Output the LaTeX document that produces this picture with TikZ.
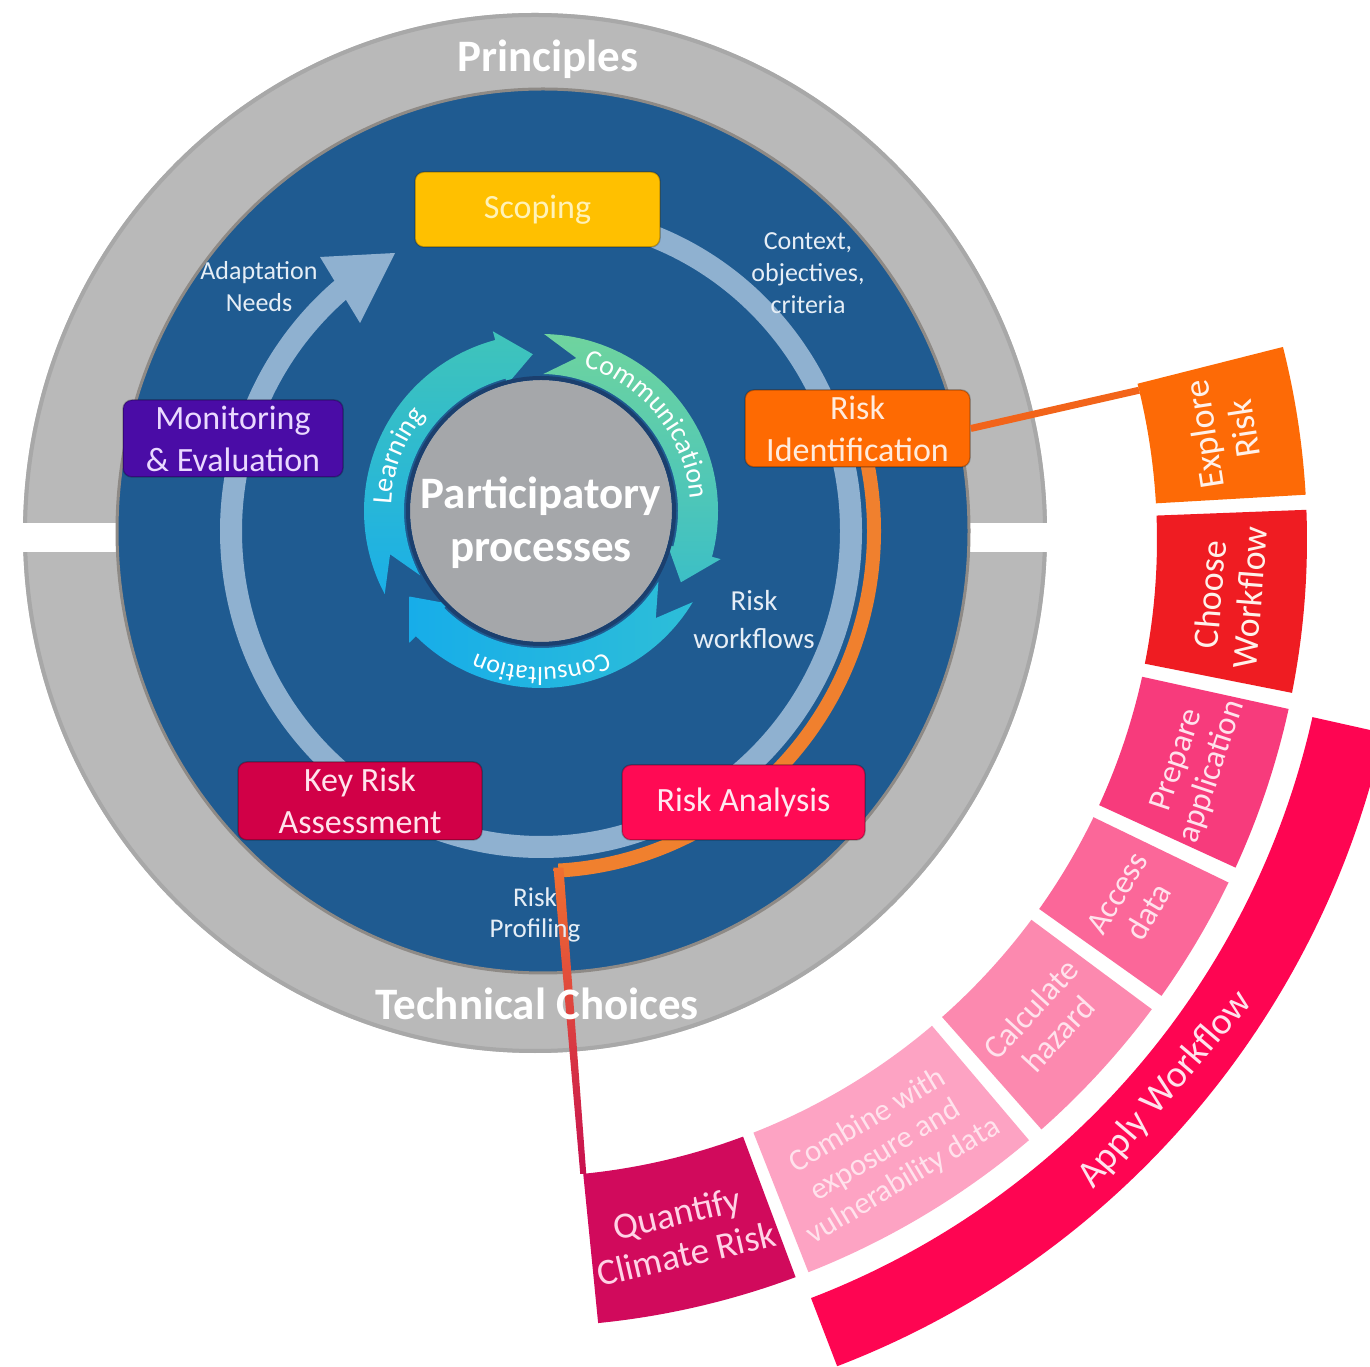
\documentclass[tikz,border=0pt]{standalone}
\usepackage{fontspec}
\setmainfont{Carlito}
\usetikzlibrary{decorations.text,calc}
\definecolor{ringgray}{HTML}{B9B9B9}
\definecolor{ringedge}{HTML}{A8A8A8}
\definecolor{diskblue}{HTML}{1F5B91}
\definecolor{diskedge}{HTML}{8E8A86}
\definecolor{cyclering}{HTML}{8FB1D0}
\definecolor{orangearc}{HTML}{F0802E}
\definecolor{idline}{HTML}{F2641A}
\definecolor{thintop}{HTML}{F07030}
\definecolor{thinbot}{HTML}{C8104F}
\definecolor{innergray}{HTML}{A5A7AA}
\definecolor{innerline}{HTML}{1B3F6E}
\definecolor{lbltxt}{HTML}{E6EEF6}
\definecolor{scopingcol}{HTML}{FFC000}
\definecolor{scopingtxt}{HTML}{FFF2B8}
\definecolor{riskidcol}{HTML}{FE6A02}
\definecolor{riskidtxt}{HTML}{FFEBDD}
\definecolor{moncol}{HTML}{4A0CA6}
\definecolor{montxt}{HTML}{EAD9FF}
\definecolor{keycol}{HTML}{D10047}
\definecolor{keytxt}{HTML}{FFE3EC}
\definecolor{analcol}{HTML}{FF0A54}
\definecolor{analtxt}{HTML}{FFE8F0}
\definecolor{learnA}{HTML}{1AAFE8}
\definecolor{learnB}{HTML}{40C4BA}
\definecolor{commA}{HTML}{6FD49E}
\definecolor{commB}{HTML}{3CBFC6}
\definecolor{consA}{HTML}{17ADE9}
\definecolor{consB}{HTML}{2DBED8}
\definecolor{explorecol}{HTML}{FD6A06}
\definecolor{choosecol}{HTML}{EF1C22}
\definecolor{preparecol}{HTML}{F73B7C}
\definecolor{accesscol}{HTML}{FB6799}
\definecolor{calccol}{HTML}{FC89AF}
\definecolor{combinecol}{HTML}{FDA3C3}
\definecolor{quantcol}{HTML}{D10A5C}
\definecolor{applycol}{HTML}{FE0552}
\definecolor{segwhite}{HTML}{FFF1EA}
\definecolor{segpink}{HTML}{FFE2EC}
\definecolor{quanttxt}{HTML}{FFD3E6}

\newcommand\ppArrow[3]{%
  \pgfmathsetmacro\hb{#2+12}%
  \pgfmathsetmacro\tn{#1-12}%
  \shade[#3] ([shift={(541,855)}]#1:177) arc[start angle=#1, end angle=\hb, radius=177]
    -- ([shift={(541,855)}]\hb:186) -- ([shift={(541,855)}]#2:157)
    -- ([shift={(541,855)}]\hb:131) -- ([shift={(541,855)}]\hb:137)
    arc[start angle=\hb, end angle=#1, radius=137]
    -- ([shift={(541,855)}]\tn:157) -- cycle;
}
\newcommand\segm[3]{%
  \fill[#3] ([shift={(520,826)}]#1:637) arc[start angle=#1, end angle=#2, radius=637]
    -- ([shift={(520,826)}]#2:787) arc[start angle=#2, end angle=#1, radius=787] -- cycle;
}

\begin{document}
\begin{tikzpicture}[x=1pt,y=1pt,
  box/.style={rounded corners=9pt, inner sep=0pt, align=center, font=\fontsize{34}{42}\selectfont, draw=black, draw opacity=0.25, line width=1.5pt},
  lbl/.style={align=center, text=lbltxt, font=\fontsize{26}{32}\selectfont, inner sep=0pt},
  bigtxt/.style={text=white, font=\bfseries\fontsize{45}{53}\selectfont, inner sep=0pt, align=center},
  segtxt/.style={align=center, inner sep=0pt},
]
\useasboundingbox (0,0) rectangle (1370,1366);
\fill[white] (0,0) rectangle (1370,1366);

% outer gray ring, split by a white strip
\fill[ringgray] (535,833) ellipse [x radius=512, y radius=520];
\draw[ringedge, line width=4pt] (535,833) ellipse [x radius=510, y radius=518];
\fill[white] (0,814) rectangle (1100,843);

% blue disk
\fill[diskblue] (543,835) ellipse [x radius=425, y radius=441];
\draw[diskedge, line width=3pt] (543,835) ellipse [x radius=426, y radius=442];

% orange arc outside the cycle
\draw[orangearc, line width=14pt] ([shift={(541,835)}]15:333 and 340) arc[start angle=15, end angle=-87, x radius=333, y radius=340];
\coordinate (corner) at ([shift={(541,835)}]-87:333 and 340);

% main cycle ring with arrow head
\draw[cyclering, line width=22pt] ([shift={(541,835)}]90:310 and 316) arc[start angle=90, end angle=-230, x radius=310, y radius=316];
\fill[cyclering] (320,1109) -- (395,1113) -- (360,1043) -- cycle;

% inner participatory arrows
\ppArrow{208}{93}{bottom color=learnA, top color=learnB}
\ppArrow{89}{-27}{top color=commA, bottom color=commB}
\ppArrow{-31}{-147}{left color=consA, right color=consB}
\fill[innergray] (541,855) circle[radius=131];
\draw[innerline, line width=4pt] (541,855) circle[radius=133];

\path[decorate, decoration={text along path, text align=center, text color=white,
  text={|\fontsize{28}{28}\selectfont|Communication}}]
  ([shift={(541,855)}]95:150) arc[start angle=95, end angle=-17, radius=150];
\path[decorate, decoration={text along path, text align=center, text color=white,
  text={|\fontsize{28}{28}\selectfont|Learning}}]
  ([shift={(541,855)}]210:150) arc[start angle=210, end angle=108, radius=150];
\path[decorate, decoration={text along path, text align=center, text color=white,
  text={|\fontsize{26}{26}\selectfont|Consultation}}]
  ([shift={(541,855)}]-40:156) arc[start angle=-40, end angle=-140, radius=156];

\node[bigtxt] (partic) at (541,843.5) {Participatory\\processes};

% outer workflow segments
\segm{3.3}{14.2}{explorecol}
\segm{-11.2}{2.2}{choosecol}
\segm{-24.6}{-12.4}{preparecol}
\segm{-35.4}{-25.8}{accesscol}
\segm{-48.5}{-36.6}{calccol}
\segm{-68.5}{-49.7}{combinecol}
\segm{-84.3}{-69.5}{quantcol}
\fill[applycol] ([shift={(520,826)}]-12.6:812) arc[start angle=-12.6, end angle=-69, radius=812]
  -- ([shift={(520,826)}]-69:885) arc[start angle=-69, end angle=-12.6, radius=885] -- cycle;

\coordinate (exploreIn) at ([shift={(520,826)}]13.6:637);
\coordinate (qtl) at ([shift={(520,826)}]-84.3:637);

% thin line from the orange arc to Quantify
\shade[top color=thintop, bottom color=thinbot] ($(corner)+(-5,3)$) -- ($(corner)+(5,3)$) -- ($(qtl)+(3,0)$) -- ($(qtl)+(-3,0)$) -- cycle;

% gray ring texts
\node[bigtxt, anchor=base] (principles) at (548,1294) {Principles};
\node[bigtxt, anchor=base] (technical) at (537,346) {Technical Choices};

% stage boxes
\node[box, fill=scopingcol, text=scopingtxt, minimum width=245, minimum height=75] (scoping) at (537.5,1156.5) {\raisebox{-4pt}{Scoping}};
\node[box, fill=riskidcol, text=riskidtxt, minimum width=225, minimum height=77] (riskid) at (857.5,937.5) {Risk\\Identification};
\node[box, fill=moncol, text=montxt, minimum width=220, minimum height=77] (monitor) at (233,927.5) {Monitoring\\\& Evaluation};
\node[box, fill=keycol, text=keytxt, minimum width=244, minimum height=78] (keyrisk) at (360,565) {Key Risk\\Assessment};
\node[box, fill=analcol, text=analtxt, minimum width=243, minimum height=75] (analysis) at (743.5,563.5) {\raisebox{-3pt}{Risk Analysis}};

\draw[idline, line width=7pt] (riskid.east) -- (exploreIn);

% small labels
\node[lbl] (adapt) at (259,1079) {Adaptation\\Needs};
\node[lbl] (context) at (808,1093) {Context,\\objectives,\\criteria};
\node[lbl, font=\fontsize{29}{38}\selectfont] (workflows) at (754,746) {Risk\\workflows};
\node[lbl, font=\fontsize{27}{31}\selectfont] (profiling) at (535,451) {Risk\\Profiling};

% segment texts
\node[segtxt, text=segwhite, rotate=98.75, font=\fontsize{36}{40}\selectfont] (explore) at ([shift={(520,826)}]8.75:712) {Explore\\Risk};
\node[segtxt, text=segwhite, rotate=85.5, font=\fontsize{36}{40}\selectfont] (choose) at ([shift={(520,826)}]-4.5:712) {Choose\\Workflow};
\node[segtxt, text=segpink, rotate=71.5, font=\fontsize{33}{37}\selectfont] (prepare) at ([shift={(520,826)}]-18.5:712) {Prepare\\application};
\node[segtxt, text=segpink, rotate=59.4, font=\fontsize{33}{37}\selectfont] (access) at ([shift={(520,826)}]-30.6:712) {Access\\data};
\node[segtxt, text=segpink, rotate=47.45, font=\fontsize{33}{37}\selectfont] (calc) at ([shift={(520,826)}]-42.55:712) {Calculate\\hazard};
\node[segtxt, text=segpink, rotate=30.9, font=\fontsize{31}{35}\selectfont] (combine) at ([shift={(520,826)}]-59.1:712) {Combine with\\exposure and\\vulnerability data};
\node[segtxt, text=quanttxt, rotate=13.1, font=\fontsize{37}{42}\selectfont] (quantify) at ([shift={(520,826)}]-76.9:712) {Quantify\\Climate Risk};

\node[segtxt, text=segpink, rotate=49.6, font=\fontsize{38}{42}\selectfont] (apply) at ([shift={(520,826)}]-40.4:848) {Apply Workflow};
\end{tikzpicture}
\end{document}
